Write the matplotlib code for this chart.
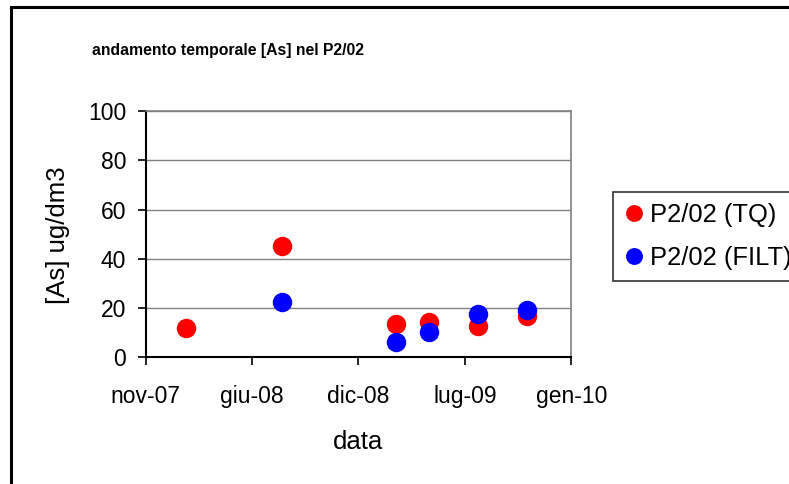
import matplotlib
matplotlib.use("Agg")
import matplotlib.pyplot as plt
from matplotlib.patches import Rectangle
import datetime as dt

# ---- data ----
dates_tq = ["2008-01-29", "2008-07-28", "2009-02-27", "2009-04-29", "2009-07-31", "2009-10-30"]
vals_tq = [11.8, 45.2, 13.6, 14.2, 12.6, 16.7]
dates_filt = ["2008-07-28", "2009-02-27", "2009-04-29", "2009-07-31", "2009-10-30"]
vals_filt = [22.4, 6.0, 10.0, 17.5, 19.1]
tick_dates = ["2007-11-14", "2008-06-01", "2008-12-18", "2009-07-06", "2010-01-22"]
tick_labels = ["nov-07", "giu-08", "dic-08", "lug-09", "gen-10"]
y_ticks = [0, 20, 40, 60, 80, 100]

title = "andamento temporale [As] nel P2/02"
xlabel = "data"
ylabel = "[As] ug/dm3"
label_tq = "P2/02 (TQ)"
label_filt = "P2/02 (FILT)"

def d(s):
    return dt.datetime.strptime(s, "%Y-%m-%d")

W, H = 789, 484
fig = plt.figure(figsize=(W / 100, H / 100), dpi=100)
plt.rcParams['font.family'] = ['Liberation Sans', 'DejaVu Sans']

L, R, T, B = 145.7, 571.3, 111.3, 357.0
ax = fig.add_axes([L / W, 1 - B / H, (R - L) / W, (B - T) / H])

ms = 14.0
ax.plot([d(s) for s in dates_tq], vals_tq, linestyle='none', marker='o', ms=ms,
        color='#FF0000', mec='#FF0000', mew=0, label=label_tq, zorder=3, clip_on=False)
ax.plot([d(s) for s in dates_filt], vals_filt, linestyle='none', marker='o', ms=ms,
        color='#0000FF', mec='#0000FF', mew=0, label=label_filt, zorder=4, clip_on=False)

ax.set_xlim(d(tick_dates[0]), d(tick_dates[-1]))
ax.set_ylim(0, 100)
ax.set_xticks([d(s) for s in tick_dates])
ax.set_xticklabels(tick_labels)
ax.set_yticks(y_ticks)
ax.set_yticklabels([str(v) for v in y_ticks])

ax.grid(axis='y', color='#808080', linewidth=1.0)
ax.set_axisbelow(True)
for side in ['top', 'right']:
    ax.spines[side].set_color('#808080')
    ax.spines[side].set_linewidth(1.2)
for side in ['left', 'bottom']:
    ax.spines[side].set_color('black')
    ax.spines[side].set_linewidth(1.5)

ax.tick_params(axis='both', direction='out', length=6, width=1.2, color='black',
               labelsize=16.5, labelcolor='black')
ax.tick_params(axis='y', pad=8)
ax.tick_params(axis='x', pad=14)

# title and axis labels
fig.text(228.5 / W, 1 - 51 / H, title, ha='center', va='center', fontsize=11.3,
         fontweight='bold')
fig.text(58.3 / W, 1 - 235 / H, ylabel, ha='center', va='center', rotation=90, fontsize=18.5)
fig.text(358 / W, 1 - 442 / H, xlabel, ha='center', va='center', fontsize=18.5)

# legend
leg = fig.legend(loc='upper left', bbox_to_anchor=(613.3 / W, 1 - 191.7 / H),
                 bbox_transform=fig.transFigure, fontsize=18.4, frameon=True,
                 fancybox=False, edgecolor='black', markerscale=0.87,
                 handlelength=0.7, handletextpad=0.3, borderpad=0.45,
                 labelspacing=0.72, borderaxespad=0)
leg.get_frame().set_linewidth(1.2)

# outer chart border
fig.patches.append(Rectangle((11 / W, -0.05), 1.2, 1 - 7 / H + 0.05, transform=fig.transFigure,
                             fill=False, edgecolor='black', linewidth=2.2, zorder=10))

fig.savefig("out.png", dpi=100)
